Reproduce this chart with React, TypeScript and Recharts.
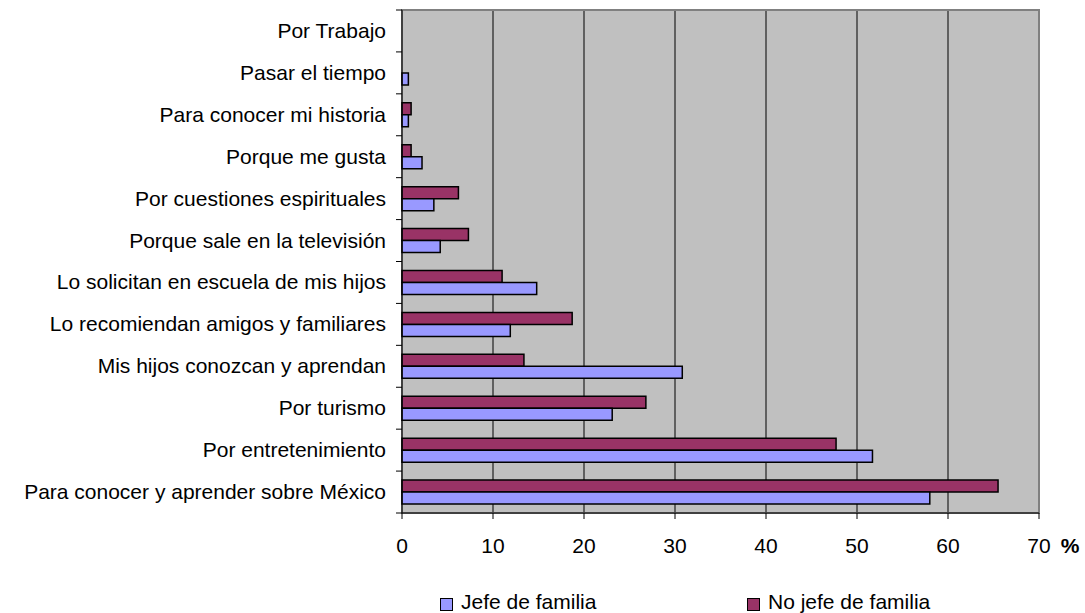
import { BarChart, Bar, XAxis, YAxis, CartesianGrid, ReferenceArea } from "recharts";

const categories = [
  "Por Trabajo",
  "Pasar el tiempo",
  "Para conocer mi historia",
  "Porque me gusta",
  "Por cuestiones espirituales",
  "Porque sale en la televisión",
  "Lo solicitan en escuela de mis hijos",
  "Lo recomiendan amigos y familiares",
  "Mis hijos conozcan y aprendan",
  "Por turismo",
  "Por entretenimiento",
  "Para conocer y aprender sobre México",
];

const jefeValues = [0, 0.7, 0.7, 2.2, 3.5, 4.2, 14.8, 11.9, 30.8, 23.1, 51.7, 58.0];
const noJefeValues = [0, 0, 1.0, 1.0, 6.2, 7.3, 11.0, 18.7, 13.4, 26.8, 47.7, 65.5];

const xTicks = [0, 10, 20, 30, 40, 50, 60, 70];

const JEFE_COLOR = "#9999FF";
const NO_JEFE_COLOR = "#993366";
const FONT = "'Liberation Sans', Arial, sans-serif";
const FONT_SIZE = 21;

const WIDTH = 1085;
const HEIGHT = 613;
const X_AXIS_HEIGHT = 30;
const MARGIN = { top: 10, right: 46, bottom: 70, left: 0 };
const Y_AXIS_WIDTH = 402;

const data = categories.map((name, i) => ({
  name,
  jefe: jefeValues[i],
  noJefe: noJefeValues[i],
}));

// ticks del eje de categorías van en el borde de cada banda (estilo Excel)
const plotHeight = HEIGHT - MARGIN.top - MARGIN.bottom - X_AXIS_HEIGHT;
const bandHalf = plotHeight / categories.length / 2;

// recharts pasa x = eje - tickSize(6) - tickMargin(2)
const CategoryTick = (props: any) => {
  const { x, y, payload, index } = props;
  const axisX = x + 8;
  const isLast = index === categories.length - 1;
  return (
    <g>
      <line x1={axisX - 6} x2={axisX} y1={y - bandHalf} y2={y - bandHalf} stroke="#000" />
      {isLast && <line x1={axisX - 6} x2={axisX} y1={y + bandHalf} y2={y + bandHalf} stroke="#000" />}
      <text x={axisX - 16} y={y} dy={7} textAnchor="end" fontSize={FONT_SIZE} fill="#000" fontFamily={FONT}>
        {payload.value}
      </text>
    </g>
  );
};

const PercentLabel = (props: any) => {
  const { viewBox } = props;
  return (
    <text
      x={viewBox.x + viewBox.width + 31}
      y={viewBox.y + 40}
      textAnchor="middle"
      fontSize={FONT_SIZE}
      fontWeight="bold"
      fill="#000"
      fontFamily={FONT}
    >
      %
    </text>
  );
};

const legendItems = [
  { label: "Jefe de familia", color: JEFE_COLOR, left: 440 },
  { label: "No jefe de familia", color: NO_JEFE_COLOR, left: 747 },
];

export default function App() {
  return (
    <div style={{ position: "absolute", left: 0, top: 0, width: WIDTH, height: HEIGHT, background: "#fff" }}>
      <BarChart width={WIDTH} height={HEIGHT} data={data} layout="vertical" margin={MARGIN} barSize={12} barGap={0}>
        <CartesianGrid horizontal={false} stroke="#000" fill="#C0C0C0" />
        <ReferenceArea x1={0} x2={70} fill="none" stroke="#808080" strokeWidth={2} ifOverflow="visible" />
        <XAxis
          type="number"
          domain={[0, 70]}
          ticks={xTicks}
          height={X_AXIS_HEIGHT}
          stroke="#000"
          tickSize={6}
          tick={{ fill: "#000", fontSize: FONT_SIZE, fontFamily: FONT }}
          tickMargin={19}
          label={<PercentLabel />}
        />
        <YAxis
          type="category"
          dataKey="name"
          width={Y_AXIS_WIDTH}
          stroke="#000"
          tickLine={false}
          tick={<CategoryTick />}
          interval={0}
        />
        <Bar dataKey="noJefe" name="No jefe de familia" fill={NO_JEFE_COLOR} stroke="#000" strokeWidth={1.5} isAnimationActive={false} />
        <Bar dataKey="jefe" name="Jefe de familia" fill={JEFE_COLOR} stroke="#000" strokeWidth={1.5} isAnimationActive={false} />
      </BarChart>
      {legendItems.map((it) => (
        <div
          key={it.label}
          style={{
            position: "absolute",
            left: it.left,
            top: 590,
            display: "flex",
            alignItems: "center",
            fontFamily: FONT,
            fontSize: FONT_SIZE,
            lineHeight: "24px",
            color: "#000",
          }}
        >
          <span
            style={{
              display: "inline-block",
              width: 11,
              height: 11,
              background: it.color,
              border: "1px solid #000",
              marginRight: 8,
              marginTop: 4,
            }}
          />
          <span>{it.label}</span>
        </div>
      ))}
    </div>
  );
}
